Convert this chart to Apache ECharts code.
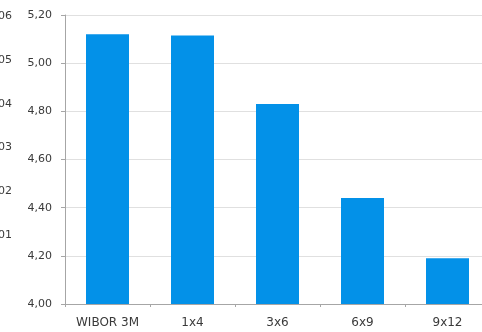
<!DOCTYPE html>
<html>
<head>
<meta charset="utf-8">
<script src="https://cdn.jsdelivr.net/npm/echarts@6/dist/echarts.min.js"></script>
<style>html,body{margin:0;padding:0;background:#fff}#c{width:482px;height:332px}</style>
</head>
<body>
<div id="c"></div>
<script>
var categories = ['WIBOR 3M', '1x4', '3x6', '6x9', '9x12'];
var values = [5.12, 5.115, 4.83, 4.44, 4.19];
var yMin = 4.0, yMax = 5.2, yStep = 0.2;
var sideMin = 0, sideMax = 0.06, sideStep = 0.01;

function comma(v, d) { return v.toFixed(d).replace('.', ','); }

var chart = echarts.init(document.getElementById('c'), null, {renderer: 'canvas'});
chart.setOption({
  animation: false,
  textStyle: {fontFamily: 'DejaVu Sans'},
  grid: [
    {left: 65, right: -8, top: 15, bottom: 28, outerBoundsMode: 'none', containLabel: false},
    {left: 20, width: 1, top: 16, height: 263, outerBoundsMode: 'none', containLabel: false}
  ],
  xAxis: [
    {
      type: 'category', data: categories, gridIndex: 0,
      axisLine: {lineStyle: {color: '#a6a6a6'}},
      axisTick: {show: true, length: 3, lineStyle: {color: '#a6a6a6'}},
      axisLabel: {color: '#3a3a3a', fontSize: 12, margin: 13}
    },
    {type: 'category', data: [], gridIndex: 1, show: false}
  ],
  yAxis: [
    {
      type: 'value', min: yMin, max: yMax, interval: yStep, gridIndex: 0,
      axisLine: {show: true, lineStyle: {color: '#a6a6a6'}},
      axisTick: {show: true, length: 4, lineStyle: {color: '#a6a6a6'}},
      splitLine: {lineStyle: {color: '#e0e0e0'}},
      axisLabel: {color: '#3a3a3a', fontSize: 11, margin: 13, formatter: function (v) { return comma(v, 2); }}
    },
    {
      type: 'value', min: sideMin, max: sideMax, interval: sideStep, gridIndex: 1,
      axisLine: {show: false}, axisTick: {show: false}, splitLine: {show: false},
      axisLabel: {color: '#3a3a3a', fontSize: 11, margin: 8, showMinLabel: false,
        formatter: function (v) { return comma(v, 2); }}
    }
  ],
  series: [
    {
      type: 'bar', data: values, xAxisIndex: 0, yAxisIndex: 0, barWidth: 43,
      itemStyle: {color: '#0391e8'}
    },
    {type: 'bar', data: [], xAxisIndex: 1, yAxisIndex: 1}
  ]
});
</script>
</body>
</html>
